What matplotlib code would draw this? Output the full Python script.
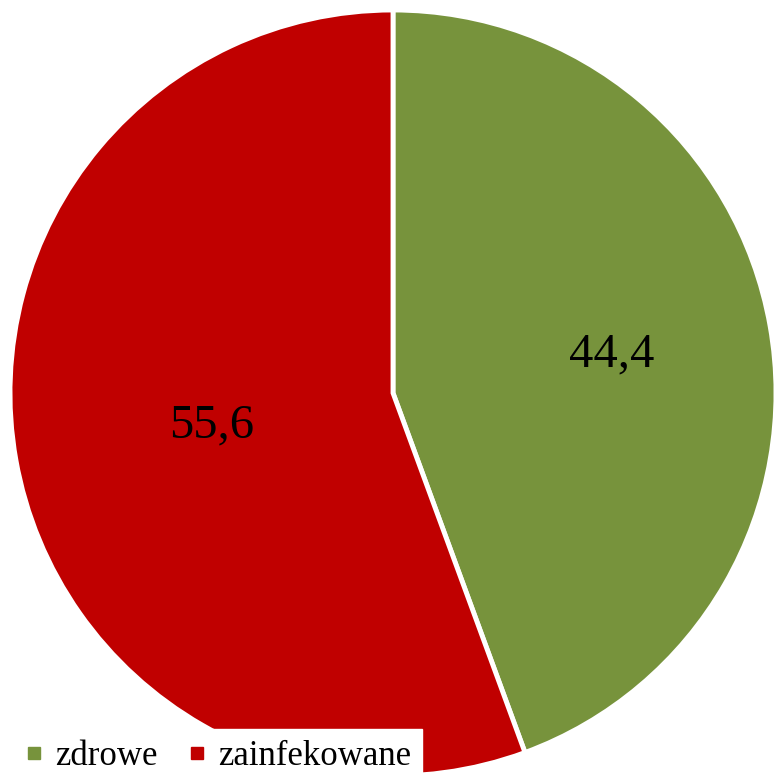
import numpy as np
import matplotlib
matplotlib.use("Agg")
import matplotlib.pyplot as plt
from matplotlib.lines import Line2D

categories = ["zdrowe", "zainfekowane"]
values = [44.4, 55.6]
labels = ["44,4", "55,6"]
colors = ["#77933C", "#C00000"]
label_dist = [0.58, 0.48]

plt.rcParams['font.family'] = ['Liberation Serif', 'DejaVu Serif']

fig = plt.figure(figsize=(7.75, 7.74), dpi=100)
ax = fig.add_axes([10/775, (774-393-383)/774, 766/775, 766/774])
wedges, _ = ax.pie(values, colors=colors, startangle=90, counterclock=False,
                   radius=1.0, wedgeprops=dict(edgecolor="white", linewidth=3.5))
ax.set_xlim(-1, 1)
ax.set_ylim(-1, 1)
ax.set_aspect("equal")
ax.axis("off")

for w, lab, d in zip(wedges, labels, label_dist):
    ang = np.deg2rad((w.theta1 + w.theta2) / 2)
    ax.text(d * np.cos(ang), d * np.sin(ang), lab, ha="center", va="center",
            fontsize=35, color="black")

handles = [Line2D([], [], marker="s", linestyle="none", markersize=8,
                  markerfacecolor=c, markeredgecolor=c) for c in colors]
leg = fig.legend(handles, categories, loc="lower left",
                 bbox_to_anchor=(15/775, -0.012), borderaxespad=0, ncol=2,
                 fontsize=25, frameon=True, fancybox=False, handlelength=0.5,
                 handletextpad=0.35, columnspacing=0.9, borderpad=0.3)
leg.get_frame().set_facecolor("white")
leg.get_frame().set_edgecolor("white")
leg.get_frame().set_alpha(1)

fig.savefig("out.png", dpi=100)
